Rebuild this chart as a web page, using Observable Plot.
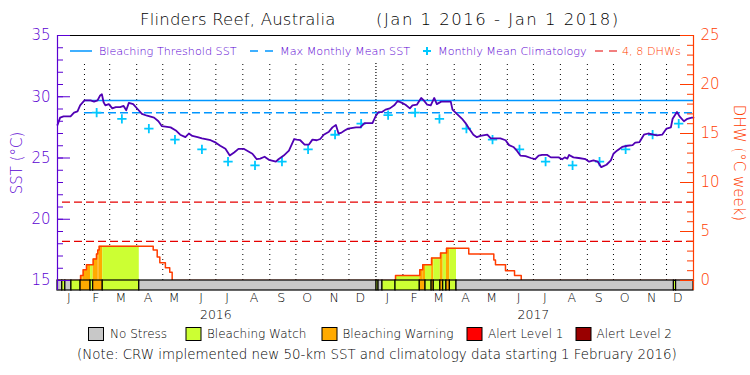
<!DOCTYPE html>
<html><head><meta charset="utf-8">
<script src="https://cdn.jsdelivr.net/npm/d3@7"></script>
<script src="https://cdn.jsdelivr.net/npm/@observablehq/plot@0.6"></script>
<style>
body{margin:0;background:#fff;}
#wrap{position:relative;width:750px;height:375px;overflow:hidden;background:#fff;font-family:"DejaVu Sans",sans-serif;font-weight:200;}
.abs{position:absolute;white-space:pre;line-height:1;}
#chart{position:absolute;left:0;top:30px;}
#over{position:absolute;left:0;top:0;pointer-events:none;}
</style></head><body>
<div id="wrap"><div id="chart"></div></div>
<script>
// ---------- DATA ----------
// Daily SST (days since 2016-01-01, °C)
const sstDay = [0,3,7,15,19,23,26,31,38,42,46,49,51,53,55,59,63,67,72,76,79,82,87,92,97,103,111,116,120,130,136,141,147,151,155,161,166,176,182,187,193,198,203,208,214,219,224,229,233,238,243,251,254,260,266,272,275,279,284,289,293,298,302,306,312,316,320,323,326,330,334,343,348,353,362,366,369,373,377,382,387,391,396,400,405,408,413,418,421,425,429,433,436,441,452,454,459,465,469,473,478,482,486,494,498,509,515,519,524,528,532,538,544,549,553,557,563,567,576,580,583,586,588,593,599,607,611,616,621,625,631,636,639,643,649,655,661,664,669,674,679,685,689,695,700,705,707,712,715,720,724,729,731];
const sstVal = [27.7,28.3,28.4,28.4,28.7,28.8,29.3,29.7,29.7,29.6,29.7,30.1,30.2,29.55,29.3,29.4,29.05,29.15,29.15,29.25,28.9,29.5,29.4,29.0,28.6,28.45,28.3,28.0,27.6,27.5,27.25,26.9,26.7,27.0,26.8,26.7,26.6,26.45,26.25,26.0,25.75,25.2,25.45,25.75,25.75,25.55,25.35,24.9,24.95,25.1,24.85,24.7,24.9,25.2,25.6,26.55,26.5,26.45,26.1,26.1,26.5,26.45,26.55,26.9,27.15,27.5,27.7,27.0,27.05,27.25,27.4,27.5,27.5,27.85,27.85,28.45,28.75,28.75,28.95,29.05,29.3,29.65,29.5,29.35,29.05,29.3,29.35,29.9,29.7,29.35,29.3,29.9,29.4,29.6,29.6,28.95,28.6,28.2,27.85,27.4,26.9,26.7,26.8,26.9,26.6,26.6,26.45,26.05,25.9,25.6,25.2,25.15,25.0,24.9,25.2,25.25,25.25,25.05,25.05,24.9,25.05,24.95,25.25,25.05,25.0,24.9,24.7,24.8,24.7,24.25,24.45,24.8,25.35,25.6,25.9,26.0,26.05,26.25,26.3,26.9,27.0,26.9,26.85,26.9,27.4,27.5,28.2,28.75,28.4,28.0,28.2,28.3,28.3];

// Monthly mean climatology
const climDate = ["2016-02-15","2016-03-15","2016-04-15","2016-05-15","2016-06-15","2016-07-15","2016-08-15","2016-09-15","2016-10-15","2016-11-15","2016-12-15","2017-01-15","2017-02-15","2017-03-15","2017-04-15","2017-05-15","2017-06-15","2017-07-15","2017-08-15","2017-09-15","2017-10-15","2017-11-15","2017-12-15"];
const climVal = [28.7,28.2,27.4,26.5,25.7,24.7,24.4,24.7,25.7,26.9,27.8,28.5,28.7,28.2,27.4,26.5,25.7,24.7,24.4,24.7,25.7,26.9,27.8];

// Thresholds
const mmm = 28.7;
const bleachingThreshold = 29.7;
const thresholdStart = "2016-02-01";
const dhwLevels = [4, 8];

// Degree Heating Weeks (step values, change day since 2016-01-01)
const dhwDay = [0,26.5,29.5,33.3,41,44.8,46.3,47.9,110,114.6,117.6,124,129,131.8,388.5,416.4,419.8,429.9,440.2,447.1,472.7,501.5,503.4,514.9,525.3,533,731];
const dhwVal = [0,0.5,1.1,1.6,2.2,2.7,3.1,3.5,3.1,2.4,1.8,1.3,0.85,0,0.5,1.1,1.6,2.3,2.8,3.3,2.7,2.1,1.6,1.0,0.5,0,0];

// Bleaching alert (stress) periods: start day, end day, level
const stressStart = [0,5.5,9,16,26.5,38,41,52,94,366.7,369,373.5,388.5,416.4,423,430,432.5,440,443.3,447,451,458.6,708.5,711];
const stressEnd   = [5.5,9,16,26.5,38,41,52,94,366.7,369,373.5,388.5,416.4,423,430,432.5,440,443.3,447,451,458.6,708.5,711,731];
const stressLevel = [0,1,0,1,2,1,2,1,0,1,0,1,1,2,1,2,1,2,1,2,1,0,1,0];

const stressLabels = ["No Stress","Bleaching Watch","Bleaching Warning","Alert Level 1","Alert Level 2"];
const monthLetters = ["J","F","M","A","M","J","J","A","S","O","N","D"];
const sstTicks = [15,20,25,30,35];
const dhwTicks = [0,5,10,15,20,25];

// ---------- STYLE ----------
const purple = "#5a00d2", sstColor = "#5000b4", blue = "#0096ff", cyan = "#00c8ff",
      orange = "#ff3c00", red = "#e60000";
const stressColors = ["#c8c8c8","#ccff33","#ffaa00","#ff0000","#990000"];

// ---------- BUILD ----------
const t0 = new Date(Date.UTC(2016,0,1)), t1 = new Date(Date.UTC(2018,0,1));
const day = d => new Date(t0.getTime() + d*864e5);
const yBottom = 15 - 10/12.25;          // room for the stress bar below the axis
const dhw2y = v => 15 + v*0.8;          // DHW 0..25 mapped on SST 15..35
const y2dhw = y => Math.round((y-15)/0.8);

const sst = sstDay.map((d,i)=>({date: day(d), v: sstVal[i]}));
const clim = climDate.map((d,i)=>({date: new Date(d+"T00:00Z"), v: climVal[i]}));
const dhw = dhwDay.map((d,i)=>({date: day(d), v: dhwVal[i]}));
const stress = stressStart.map((s,i)=>({x1: day(s), x2: day(stressEnd[i]), level: stressLevel[i]}));
const fills = [];
stressStart.forEach((s,k)=>{
  const e = stressEnd[k], lev = stressLevel[k];
  if (lev === 0) return;
  for (let i=0;i<dhwDay.length-1;i++){
    const a = Math.max(s, dhwDay[i]), b = Math.min(e, dhwDay[i+1]);
    if (b > a && dhwVal[i] > 0) fills.push({x1: day(a), x2: day(b), v: dhwVal[i], level: lev});
  }
});
const months = d3.utcMonth.range(t0, t1);
const jan2017 = new Date(Date.UTC(2017,0,1));
const monthLines = months.slice(1).filter(m => +m !== +jan2017);
const monthMid = months.map(m => d3.utcDay.offset(m, 13));
const yearMid = [new Date(Date.UTC(2016,6,1)), new Date(Date.UTC(2017,6,1))];
const thrStart = new Date(thresholdStart+"T00:00Z");

const chart = Plot.plot({
  width: 750, height: 295,
  marginTop: 5, marginBottom: 35, marginLeft: 57, marginRight: 57,
  style: {fontFamily: "DejaVu Sans, sans-serif", fontWeight: 200, background: "white", overflow: "visible"},
  x: {type: "utc", domain: [t0, t1]},
  y: {domain: [yBottom, 35]},
  marks: [
    Plot.ruleX(monthLines, {y1: () => 15, y2: () => 32.8, stroke: "black", strokeDasharray: "1,4"}),
    Plot.ruleX([jan2017], {y1: () => 15, y2: () => 32.8, stroke: "black", strokeDasharray: "1,2", strokeWidth: 1.2}),
    Plot.ruleY(dhwLevels.map(dhw2y), {stroke: red, strokeDasharray: "8,4", insetLeft: 5, strokeWidth: 1.2}),
    Plot.rect(fills, {x1: "x1", x2: "x2", y1: () => 15, y2: d => dhw2y(d.v), fill: d => stressColors[d.level]}),
    Plot.ruleY([bleachingThreshold], {x1: () => thrStart, x2: () => t1, stroke: blue, strokeWidth: 1.5}),
    Plot.ruleY([mmm], {x1: () => thrStart, x2: () => t1, stroke: blue, strokeWidth: 1.5, strokeDasharray: "8,4"}),
    Plot.dot(clim, {x: "date", y: "v", symbol: "plus", r: 3.1, stroke: cyan, strokeWidth: 1.8}),
    Plot.line(sst, {x: "date", y: "v", stroke: sstColor, strokeWidth: 1.8}),
    Plot.line(dhw, {x: "date", y: d => dhw2y(d.v), curve: "step-after", stroke: orange, strokeWidth: 1.5}),
    Plot.rect(stress, {x1: "x1", x2: "x2", y1: () => yBottom, y2: () => 15, fill: d => stressColors[d.level], stroke: "black", strokeWidth: 1.2}),
    Plot.ruleY([35], {stroke: "black", strokeWidth: 1.2}),
    Plot.ruleX([t0], {stroke: purple, strokeWidth: 1.2}),
    Plot.ruleX([t1], {stroke: orange, strokeWidth: 1.2}),
    Plot.ruleY(d3.range(15, 36), {stroke: purple, insetRight: 630}),
    Plot.ruleY(sstTicks, {stroke: purple, insetRight: 623}),
    Plot.ruleY(d3.range(0, 26).map(dhw2y), {stroke: orange, insetLeft: 630}),
    Plot.ruleY(dhwTicks.map(dhw2y), {stroke: orange, insetLeft: 623}),
    Plot.axisY(sstTicks, {anchor: "left", tickSize: 0, tickPadding: 7, fontSize: 15, color: purple, label: null, tickFormat: d => String(d)}),
    Plot.axisY(dhwTicks.map(dhw2y), {anchor: "right", tickSize: 0, tickPadding: 7, fontSize: 15, color: orange, label: null, tickFormat: y2dhw}),
    Plot.axisX(monthMid, {anchor: "bottom", tickSize: 0, tickPadding: 3, fontSize: 12.5, color: "black", label: null, tickFormat: d => monthLetters[d.getUTCMonth()]}),
    Plot.axisX(yearMid, {anchor: "bottom", tickSize: 0, tickPadding: 20, fontSize: 12.5, color: "black", label: null, tickFormat: d => String(d.getUTCFullYear())}),
    Plot.text(["SST (°C)"], {text: d => d, frameAnchor: "left", textAnchor: "middle", dx: -40, rotate: -90, fill: purple, fontSize: 15}),
    Plot.text(["DHW (°C week)"], {text: d => d, frameAnchor: "right", textAnchor: "middle", dx: 45, rotate: 90, fill: orange, fontSize: 15})
  ]
});
document.getElementById("chart").appendChild(chart);

// ---------- HTML title, legends, note ----------
const wrap = document.getElementById("wrap");
function addText(txt, left, cy, size, color, extra) {
  const el = document.createElement("div");
  el.className = "abs";
  el.textContent = txt;
  el.style.left = left + "px";
  el.style.top = (cy - 0.48*size) + "px";
  el.style.fontSize = size + "px";
  el.style.color = color;
  if (extra) Object.assign(el.style, extra);
  wrap.appendChild(el);
}
addText("Flinders Reef, Australia", 140, 20, 16.5, "black", {letterSpacing: "0.2px"});
addText("(Jan 1 2016 - Jan 1 2018)", 376, 20, 16.5, "black", {letterSpacing: "1.5px"});

addText("Bleaching Threshold SST", 99, 51, 11.2, purple);
addText("Max Monthly Mean SST", 280, 51, 11.2, purple);
addText("Monthly Mean Climatology", 438, 51, 11.2, purple);
addText("4, 8 DHWs", 622, 51, 11.2, orange);

const boxX = [88.5, 186, 322, 467, 576];
const textX = [110, 207, 342.5, 488, 596.5];
stressLabels.forEach((s,i) => addText(s, textX[i], 334, 12, "black"));
addText("(Note: CRW implemented new 50-km SST and climatology data starting 1 February 2016)", 77, 354, 13.4, "black");

// legend swatches
const ns = "http://www.w3.org/2000/svg";
const over = document.createElementNS(ns, "svg");
over.setAttribute("id", "over"); over.setAttribute("width", 750); over.setAttribute("height", 375);
function ln(x1,y1,x2,y2,stroke,w,dash){
  const l = document.createElementNS(ns,"line");
  l.setAttribute("x1",x1);l.setAttribute("y1",y1);l.setAttribute("x2",x2);l.setAttribute("y2",y2);
  l.setAttribute("stroke",stroke);l.setAttribute("stroke-width",w);
  if (dash) l.setAttribute("stroke-dasharray",dash);
  over.appendChild(l);
}
ln(70,51,92,51,blue,1.5);
ln(250,51,273,51,blue,1.5,"8,7");
ln(423,51,431,51,cyan,2); ln(427,47,427,55,cyan,2);
ln(595,51,617,51,red,1.2,"8,6");
boxX.forEach((x,i)=>{
  const r = document.createElementNS(ns,"rect");
  r.setAttribute("x",x);r.setAttribute("y",327.5);r.setAttribute("width",15);r.setAttribute("height",13);
  r.setAttribute("fill",stressColors[i]);r.setAttribute("stroke","black");r.setAttribute("stroke-width",1);
  over.appendChild(r);
});
wrap.appendChild(over);
</script>
</body></html>
